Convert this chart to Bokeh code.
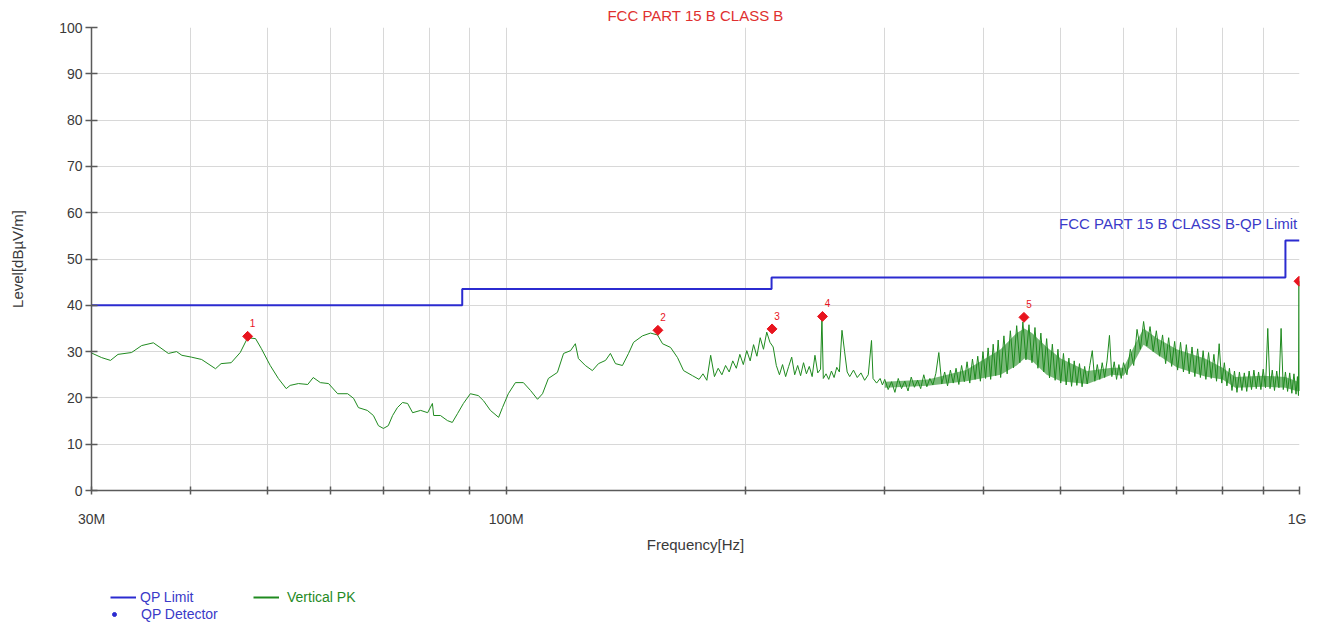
import math
from bokeh.plotting import figure
from bokeh.layouts import column
from bokeh.models import Range1d, FixedTicker, Label, Legend, LegendItem
from bokeh.embed import file_html
from bokeh.resources import INLINE
from bokeh.core.properties import value

FONT = "Liberation Sans"
BLUE = "#2b2bd0"
BLUE_TXT = "#3a3ac8"
GREEN = "#1f8a1f"
RED = "#e8141e"
TITLE_RED = "#e03030"

# ---- axes ----
x_tick_values = [30, 40, 50, 60, 70, 80, 90, 100, 200, 300, 400, 500, 600, 700, 800, 900, 1000]
x_tick_labels = ["30M", "", "", "", "", "", "", "100M", "", "", "", "", "", "", "", "", "1G"]
y_tick_values = [0, 10, 20, 30, 40, 50, 60, 70, 80, 90, 100]

# ---- QP limit (MHz, dBuV/m) ----
limit_freq = [30, 88, 216, 960, 1000]
limit_level = [40, 43.5, 46, 54, 54]

# ---- QP detector points ----
marker_freq = [47.2, 155.3, 216.3, 250.4, 449.4, 998.5]
marker_level = [33.3, 34.6, 34.9, 37.6, 37.4, 45.2]
marker_labels = ["1", "2", "3", "4", "5", "6"]

# ---- Vertical PK trace (MHz, dBuV/m) ----
pk_freq_1 = [30.0, 30.9, 31.7, 32.4, 33.7, 34.7, 35.9, 36.6, 37.5, 38.4,
             39.0, 40.1, 41.3, 43.0, 43.7, 45.0, 46.2, 47.2, 48.3, 49.1,
             50.4, 51.6, 52.8, 53.4, 54.7, 56.2, 57.1, 58.3, 59.7, 61.3,
             63.1, 64.2, 65.1, 66.8, 68.0, 69.0, 70.0, 71.0, 71.9, 72.9,
             74.0, 75.1, 76.2, 78.0, 79.6, 80.7, 81.0, 82.6, 84.3, 85.5,
             86.8, 88.3, 90.1, 92.2, 93.6, 95.5, 97.8, 98.9, 100.6, 102.7,
             105.1, 107.3, 109.5, 111.1, 113.0, 116.0, 118.1, 120.5, 122.2, 123.3,
             125.8, 128.4, 130.7, 133.4, 135.3, 137.3, 140.1, 142.6, 144.7, 148.5,
             152.0, 155.1, 157.4, 161.1, 164.4, 167.3, 171.7]
pk_level_1 = [29.7, 28.7, 28.1, 29.4, 29.8, 31.3, 31.9, 30.9, 29.6, 30.0,
              29.2, 28.8, 28.3, 26.3, 27.4, 27.6, 29.8, 33.0, 32.8, 30.7,
              27.0, 24.2, 22.0, 22.7, 23.1, 22.9, 24.4, 23.3, 23.1, 20.9,
              20.9, 19.9, 17.9, 17.3, 16.2, 14.0, 13.4, 14.0, 16.2, 17.9,
              19.0, 18.8, 16.8, 17.3, 16.8, 18.8, 16.2, 16.2, 15.1, 14.7,
              16.6, 18.8, 20.9, 20.5, 19.4, 17.3, 15.8, 17.9, 20.9, 23.3,
              23.3, 21.6, 19.7, 20.9, 24.2, 25.5, 29.6, 30.2, 31.7, 28.5,
              27.0, 25.9, 27.4, 28.1, 29.6, 27.4, 27.0, 29.6, 32.0, 33.4,
              34.0, 33.6, 31.7, 30.9, 28.7, 25.9, 24.8]

pk_freq_2 = [175, 177, 179, 181, 183, 185, 187, 189, 191, 193,
             195, 197, 199, 201, 203, 205, 207, 209, 211, 213,
             215, 217, 219, 221, 223, 225, 227, 229, 231, 233,
             235, 237, 239, 241, 243, 245, 247, 249, 250, 251,
             253, 255, 257, 259, 261, 263, 265, 267, 269, 271,
             274, 277, 280, 283, 286, 288.7, 290, 293, 296, 298]
pk_level_2 = [24.0, 25.2, 23.8, 29.2, 24.6, 26.4, 25.0, 27.0, 25.6, 28.0,
              26.4, 29.4, 27.2, 30.2, 28.0, 31.5, 29.0, 33.0, 30.5, 34.2,
              32.0, 31.0, 27.0, 25.0, 27.2, 24.6, 26.8, 28.8, 25.0, 27.0,
              24.8, 27.6, 25.2, 26.8, 24.6, 29.2, 25.4, 26.2, 37.4, 24.2,
              25.2, 24.0, 25.8, 24.4, 26.6, 25.6, 34.6, 30.0, 25.6, 24.6,
              26.0, 24.4, 25.4, 23.8, 25.0, 32.4, 24.2, 23.2, 24.2, 22.8]

pk_freq_3 = [300, 303, 306, 309, 312, 315, 318, 321, 324, 327,
             330, 333, 336, 339, 342, 345, 348, 351, 354, 357,
             360, 363, 366, 369, 372, 375, 378, 381, 384, 387,
             390, 393, 396, 399, 402, 405, 408, 411, 414, 417, 420]
pk_level_3 = [24.0, 21.8, 23.5, 21.2, 24.2, 22.0, 23.6, 21.5, 24.5, 22.3,
              23.8, 22.0, 25.0, 22.4, 24.2, 22.8, 25.3, 29.8, 23.0, 25.6,
              22.6, 26.0, 23.2, 26.4, 22.9, 27.0, 23.5, 27.8, 23.2, 28.4,
              24.0, 29.0, 23.6, 30.0, 24.2, 30.8, 24.0, 31.6, 24.8, 32.5, 24.4]

pk_freq_4 = [424, 428, 432, 436, 440, 444, 448, 452, 456, 460,
             464, 468, 472, 476, 480, 484, 488, 492, 496, 500,
             504, 508, 512, 516, 520, 524, 528, 532, 536, 540,
             544, 548, 552, 556, 560, 564, 568, 572, 576, 580,
             584, 588, 592, 596, 600]
pk_level_4 = [33.4, 25.2, 34.5, 26.5, 35.6, 27.6, 36.4, 28.2, 35.8, 27.6,
              35.2, 26.4, 34.0, 25.6, 32.8, 24.3, 31.6, 23.8, 30.5, 23.2,
              29.6, 22.8, 28.6, 22.5, 28.0, 22.7, 27.4, 22.4, 26.8, 23.0,
              27.0, 30.2, 23.6, 27.2, 24.0, 27.6, 24.4, 28.0, 33.5, 24.6,
              27.8, 24.0, 27.2, 24.2, 27.6]

pk_freq_5 = [606, 612, 618, 624, 630, 636, 642, 648, 654, 660,
             666, 672, 678, 684, 690, 696, 702, 708, 714, 720,
             726, 732, 738, 744, 750, 756, 762, 768, 774, 780,
             786, 792, 798, 804, 810, 816, 822, 828, 834, 840,
             846, 852, 858, 864, 870, 876, 882, 888, 894, 900,
             906, 912, 918, 924, 930, 936, 942, 948, 954, 960,
             966, 972, 978, 984, 990, 994, 997, 998.5, 1000]
pk_level_5 = [25.0, 30.5, 27.0, 34.8, 30.5, 36.5, 31.2, 35.4, 30.0, 34.5,
              29.0, 33.6, 27.4, 33.0, 26.8, 32.2, 26.0, 32.0, 25.6, 31.5,
              25.2, 31.0, 24.6, 30.6, 24.4, 30.2, 24.0, 29.8, 24.2, 29.4,
              23.6, 31.7, 23.2, 27.6, 22.6, 26.4, 21.6, 25.8, 21.2, 25.6,
              21.6, 25.4, 21.4, 25.8, 21.8, 26.0, 22.0, 25.6, 21.8, 26.2,
              22.2, 35.0, 22.0, 26.0, 21.6, 25.8, 22.2, 35.0, 21.8, 25.6,
              21.4, 25.4, 21.0, 25.2, 20.8, 24.6, 20.5, 45.2, 21.5]

pk_freq = pk_freq_1 + pk_freq_2 + pk_freq_3 + pk_freq_4 + pk_freq_5
pk_level = pk_level_1 + pk_level_2 + pk_level_3 + pk_level_4 + pk_level_5

# core of the densely sampled noise band of the PK trace (inner top / bottom)
band_freq = [300, 340, 380, 420, 440, 450, 460, 480, 500, 540, 580, 600, 620, 636, 660,
             700, 760, 800, 830, 900, 960, 996]
band_hi = [23.5, 24.0, 26.0, 30.5, 34.0, 35.0, 34.0, 31.0, 28.5, 25.8, 26.5, 26.5, 31.5, 35.0, 33.0,
           30.5, 28.5, 26.5, 24.5, 24.8, 24.5, 23.5]
band_lo = [22.2, 22.6, 23.6, 25.0, 27.0, 28.5, 28.0, 25.0, 23.6, 23.0, 25.0, 24.8, 28.0, 31.5, 29.5,
           26.6, 24.6, 24.0, 22.2, 22.4, 22.2, 21.4]

# ---- main figure ----
p = figure(width=1306, height=560, x_axis_type="log",
           x_range=Range1d(30, 1000), y_range=Range1d(0, 100),
           output_backend="svg", toolbar_location=None,
           min_border_left=91, min_border_right=7, min_border_top=27, min_border_bottom=70)
p.title.text = "FCC PART 15 B CLASS B"
p.title.align = "center"
p.title.text_font = FONT
p.title.text_font_size = "15px"
p.title.text_font_style = "normal"
p.title.text_color = TITLE_RED
p.title.standoff = 8
p.outline_line_color = None

# x axis
p.xaxis.ticker = FixedTicker(ticks=x_tick_values, minor_ticks=[])
p.xaxis.major_label_overrides = {t: l for t, l in zip(x_tick_values, x_tick_labels)}
p.xaxis.axis_label = "Frequency[Hz]"
p.xaxis.major_tick_in = 4
p.xaxis.major_tick_out = 4
p.xaxis.minor_tick_line_color = None
p.xaxis.major_label_standoff = 16
p.xaxis.axis_label_standoff = 6

# y axis
p.yaxis.ticker = FixedTicker(ticks=y_tick_values, minor_ticks=[])
p.yaxis.axis_label = "Level[dBµV/m]"
p.yaxis.major_tick_in = 6
p.yaxis.major_tick_out = 6
p.yaxis.minor_tick_line_color = None
p.yaxis.major_label_standoff = 3
p.yaxis.axis_label_standoff = 30

for ax in (p.xaxis, p.yaxis):
    ax.axis_line_color = "#5a5a5a"
    ax.axis_line_width = 1.5
    ax.major_tick_line_color = "#5a5a5a"
    ax.major_tick_line_width = 1.5
    ax.major_label_text_font = FONT
    ax.major_label_text_font_size = "14px"
    ax.major_label_text_color = "#3a3a3a"
    ax.axis_label_text_font = FONT
    ax.axis_label_text_font_size = "15px"
    ax.axis_label_text_font_style = "normal"
    ax.axis_label_text_color = "#3a3a3a"

p.xgrid.grid_line_color = "#d8d8d8"
p.ygrid.grid_line_color = "#d8d8d8"

# ---- glyphs ----
p.step(limit_freq, limit_level, mode="after", line_color=BLUE, line_width=2)
p.varea(x=band_freq, y1=band_lo, y2=band_hi, fill_color=GREEN, fill_alpha=0.6)
p.line(pk_freq, pk_level, line_color=GREEN, line_width=1)

p.scatter(marker_freq, marker_level, marker="square", angle=math.pi / 4, size=7,
          fill_color=RED, line_color=RED)
p.text(x=marker_freq, y=marker_level, text=marker_labels, x_offset=5, y_offset=-13,
       text_font=value(FONT), text_font_size="10px", text_color=RED,
       text_align="center", text_baseline="middle")

p.add_layout(Label(x=995, y=57.7, text="FCC PART 15 B CLASS B-QP Limit",
                   text_align="right", text_baseline="middle", text_font=FONT,
                   text_font_size="15px", text_color=BLUE_TXT))

# ---- legend strip under the chart (its frame is aligned with the chart frame) ----
lg = figure(width=1306, height=62, x_range=Range1d(0, 1), y_range=Range1d(0, 1),
            x_axis_location=None, y_axis_location=None,
            output_backend="svg", toolbar_location=None,
            min_border_left=91, min_border_right=7, min_border_top=0, min_border_bottom=0)
lg.outline_line_color = None
lg.xgrid.visible = False
lg.ygrid.visible = False
lg.title.text = ""

# legend-only renderers: their points lie outside the strip's ranges, so only the legend shows them
r_limit = lg.line(x=[5, 6], y=[5, 5], line_color=BLUE, line_width=2)
r_pk = lg.line(x=[5, 6], y=[5, 5], line_color=GREEN, line_width=2)
r_det = lg.scatter(x=[5], y=[5], marker="circle", size=5, fill_color=BLUE, line_color=BLUE)


def make_legend(label, renderer, color, loc, gw, standoff):
    return Legend(items=[LegendItem(label=label, renderers=[renderer])], location=loc,
                  orientation="vertical", glyph_width=gw, glyph_height=16, label_height=16,
                  label_standoff=standoff, label_text_color=color, label_text_font=FONT,
                  label_text_font_size="14px", padding=0, margin=0, spacing=0,
                  border_line_color=None, background_fill_alpha=0)


lg.add_layout(make_legend("QP Limit", r_limit, BLUE_TXT, (19, 17), 26, 4))
lg.add_layout(make_legend("Vertical PK", r_pk, GREEN, (162, 17), 26, 8))
lg.add_layout(make_legend("QP Detector", r_det, BLUE_TXT, (18, 0), 10, 22))

layout = column(p, lg, spacing=0)
open("out.html", "w").write(file_html(layout, INLINE))
